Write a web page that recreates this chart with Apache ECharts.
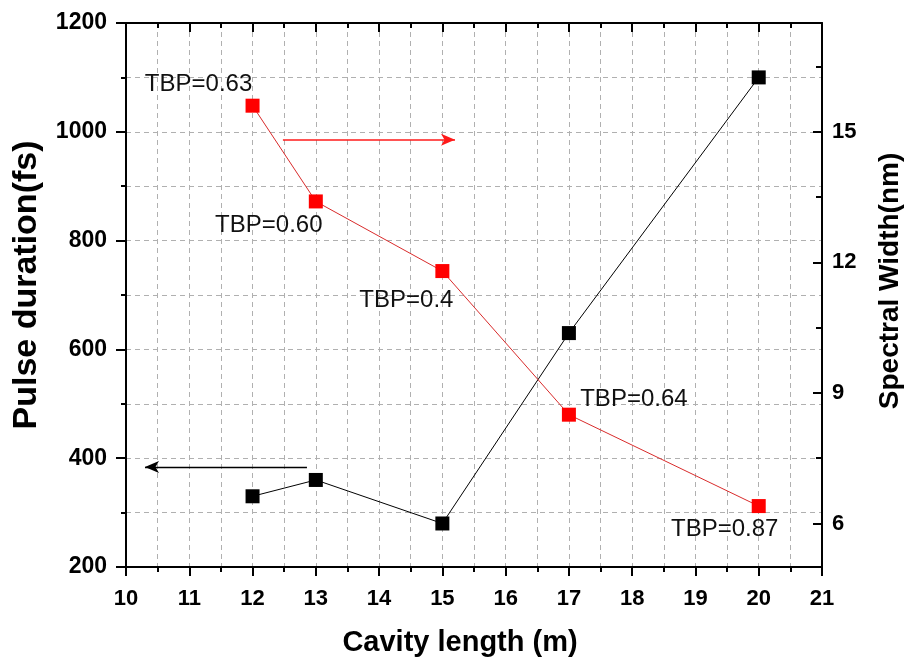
<!DOCTYPE html>
<html>
<head>
<meta charset="utf-8">
<script src="https://cdn.jsdelivr.net/npm/echarts@6/dist/echarts.min.js"></script>
<style>
  html, body { margin: 0; padding: 0; background: #fff; }
  #chart { width: 908px; height: 660px; }
</style>
</head>
<body>
<div id="chart"></div>
<script>
// data
var cavityLength = [12, 13, 15, 17, 20];
var pulseDuration = [330, 360, 280, 630, 1100];
var spectralWidth = [15.6, 13.4, 11.8, 8.5, 6.4];
var tbpLabels = ['TBP=0.63', 'TBP=0.60', 'TBP=0.4', 'TBP=0.64', 'TBP=0.87'];
var rightMajor = [6, 9, 12, 15];
var rightMinor = [7.5, 10.5, 13.5, 16.5];

// label offsets for each TBP note (px)
var tbpOffsets = [[-54, -21], [-47, 24], [-36, 29], [65, -15], [-34, 23]];

var chart = echarts.init(document.getElementById('chart'));

var FONT = 'Liberation Sans';
var grey = { color: '#b0b0b0', type: [5, 4], width: 1 };

function pairs(xs, ys) {
    return xs.map(function (x, i) { return [x, ys[i]]; });
}

var option = {
    animation: false,
    backgroundColor: '#fff',
    textStyle: { fontFamily: FONT },
    grid: { left: 126, right: 86, top: 23, bottom: 93, outerBoundsMode: 'none' },
    xAxis: [
        {
            type: 'value', position: 'bottom', min: 10, max: 21, interval: 1,
            name: 'Cavity length (m)', nameLocation: 'middle', nameGap: 61,
            nameTextStyle: { fontSize: 29, fontWeight: 'bold', color: '#000', fontFamily: FONT, padding: [0, 28, 0, 0] },
            axisLine: { lineStyle: { color: '#000', width: 2 } },
            axisTick: { inside: false, length: 9, lineStyle: { color: '#000', width: 2 } },
            minorTick: { show: true, splitNumber: 2, length: 5, lineStyle: { color: '#000', width: 2 } },
            axisLabel: { fontSize: 22, fontWeight: 'bold', color: '#000', margin: 21, fontFamily: FONT },
            splitLine: { show: true, lineStyle: grey },
            minorSplitLine: { show: true, lineStyle: grey }
        },
        {
            type: 'value', position: 'top', min: 10, max: 21, interval: 1,
            axisLine: { lineStyle: { color: '#000', width: 2 } },
            axisTick: { inside: true, length: 9, lineStyle: { color: '#000', width: 2 } },
            minorTick: { show: true, splitNumber: 2, length: 5, lineStyle: { color: '#000', width: 2 } },
            axisLabel: { show: false },
            splitLine: { show: false }
        }
    ],
    yAxis: [
        {
            type: 'value', position: 'left', min: 200, max: 1200, interval: 200,
            name: 'Pulse duration(fs)', nameLocation: 'middle', nameGap: 82,
            nameTextStyle: { fontSize: 34, fontWeight: 'bold', color: '#000', fontFamily: FONT, padding: [0, 0, 0, 20] },
            axisLine: { lineStyle: { color: '#000', width: 2 } },
            axisTick: { inside: false, length: 10, lineStyle: { color: '#000', width: 2 } },
            minorTick: { show: true, splitNumber: 2, length: 5, lineStyle: { color: '#000', width: 2 } },
            axisLabel: {
                fontSize: 23, fontWeight: 'bold', color: '#000', margin: 19, fontFamily: FONT,
                formatter: function (v) { return String(v); }
            },
            splitLine: { show: true, lineStyle: grey },
            minorSplitLine: { show: true, lineStyle: grey }
        },
        {
            type: 'value', position: 'right', min: 5, max: 17.5,
            name: 'Spectral Width(nm)', nameLocation: 'middle', nameGap: 54,
            nameTextStyle: { fontSize: 28, fontWeight: 'bold', color: '#000', fontFamily: FONT, padding: [0, 0, 0, 28] },
            axisLine: { lineStyle: { color: '#000', width: 2 } },
            axisTick: { inside: true, length: 9, customValues: rightMajor, lineStyle: { color: '#000', width: 2 } },
            axisLabel: { customValues: rightMajor, fontSize: 22, fontWeight: 'bold', color: '#000', margin: 10, fontFamily: FONT },
            splitLine: { show: false }
        },
        {
            type: 'value', position: 'right', min: 5, max: 17.5,
            axisLine: { show: false },
            axisTick: { inside: true, length: 6, customValues: rightMinor, lineStyle: { color: '#000', width: 2 } },
            axisLabel: { show: false },
            splitLine: { show: false }
        }
    ],
    series: [
        {
            name: 'Pulse duration', type: 'line', xAxisIndex: 0, yAxisIndex: 0,
            data: pairs(cavityLength, pulseDuration),
            symbol: 'rect', symbolSize: 14,
            itemStyle: { color: '#000' },
            lineStyle: { color: '#000', width: 1 },
            markLine: {
                silent: true, symbol: ['none', 'arrow'], symbolSize: [9, 14],
                label: { show: false },
                itemStyle: { color: '#000' },
                lineStyle: { color: '#000', width: 1.3, type: 'solid' },
                data: [[{ coord: [12.86, 384] }, { coord: [10.3, 384] }]]
            }
        },
        {
            name: 'Spectral width', type: 'line', xAxisIndex: 0, yAxisIndex: 1,
            data: pairs(cavityLength, spectralWidth),
            symbol: 'rect', symbolSize: 14,
            itemStyle: { color: '#ff0000' },
            lineStyle: { color: '#d92b2b', width: 1 },
            label: {
                show: true, position: 'inside', fontSize: 24, color: '#111', fontFamily: FONT,
                formatter: function (p) { return tbpLabels[p.dataIndex]; }
            },
            labelLayout: function (p) {
                var o = tbpOffsets[p.dataIndex];
                return { dx: o[0], dy: o[1] };
            },
            markLine: {
                silent: true, symbol: ['none', 'arrow'], symbolSize: [9, 14],
                label: { show: false },
                itemStyle: { color: '#ff1a1a' },
                lineStyle: { color: '#ff1a1a', width: 1.6, type: 'solid' },
                emphasis: { disabled: true },
                data: [[{ coord: [12.48, 14.82] }, { coord: [15.2, 14.82] }]]
            }
        }
    ]
};

chart.setOption(option);
</script>
</body>
</html>
